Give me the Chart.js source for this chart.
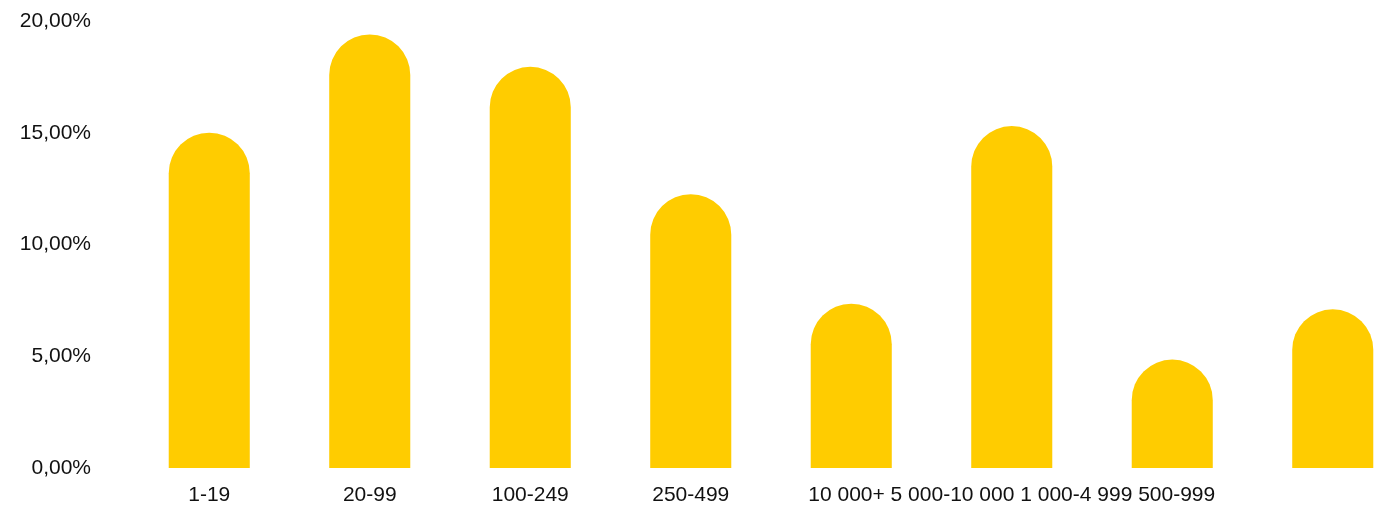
<!DOCTYPE html>
<html>
<head>
<meta charset="utf-8">
<script src="https://cdn.jsdelivr.net/npm/chart.js@4/dist/chart.umd.min.js"></script>
<style>
  html, body { margin: 0; padding: 0; background: #fff; overflow: hidden; }
  #wrap { width: 1413px; height: 511px; }
</style>
</head>
<body>
<div id="wrap"><canvas id="c" width="1413" height="511"></canvas></div>
<script>
// Company size groups (number of employees)
const categories = ["1-19", "20-99", "100-249", "250-499", "10 000+", "5 000-10 000", "1 000-4 999", "500-999"];
// Share of respondents, %
const shares = [15.0, 19.4, 17.95, 12.25, 7.35, 15.3, 4.85, 7.1];
// Tick labels as they appear in the picture (last four run together under one bar)
const xTickLabels = ["1-19", "20-99", "100-249", "250-499", "", "10 000+ 5 000-10 000 1 000-4 999 500-999", "", ""];
const yTicks = [0, 5, 10, 15, 20];

const font = { family: "'Liberation Sans', Arial, sans-serif", size: 21 };

new Chart(document.getElementById('c'), {
  type: 'bar',
  data: {
    labels: categories,
    datasets: [{
      data: shares,
      backgroundColor: '#FFCC00',
      borderWidth: 0,
      borderRadius: { topLeft: 200, topRight: 200, bottomLeft: 0, bottomRight: 0 },
      borderSkipped: false,
      barPercentage: 0.505,
      categoryPercentage: 1.0
    }]
  },
  options: {
    responsive: false,
    animation: false,
    layout: { padding: { top: 21, right: 0, bottom: 0, left: 0 } },
    plugins: { legend: { display: false }, tooltip: { enabled: false } },
    scales: {
      x: {
        grid: { display: false, drawTicks: false },
        border: { display: false },
        ticks: {
          color: '#111',
          font: font,
          padding: 15,
          autoSkip: false,
          maxRotation: 0,
          minRotation: 0,
          callback: (v, i) => xTickLabels[i]
        },
        afterFit: s => { s.height = 43; s.paddingLeft = 0; s.paddingRight = 0; }
      },
      y: {
        min: 0,
        max: 20,
        grid: { display: false, drawTicks: false },
        border: { display: false },
        afterBuildTicks: s => { s.ticks = yTicks.map(v => ({ value: v })); },
        ticks: {
          color: '#111',
          font: font,
          padding: 38,
          callback: v => v.toFixed(2).replace('.', ',') + '%'
        },
        afterFit: s => { s.width = 129; s.paddingTop = 0; s.paddingBottom = 0; }
      }
    }
  }
});
</script>
</body>
</html>
